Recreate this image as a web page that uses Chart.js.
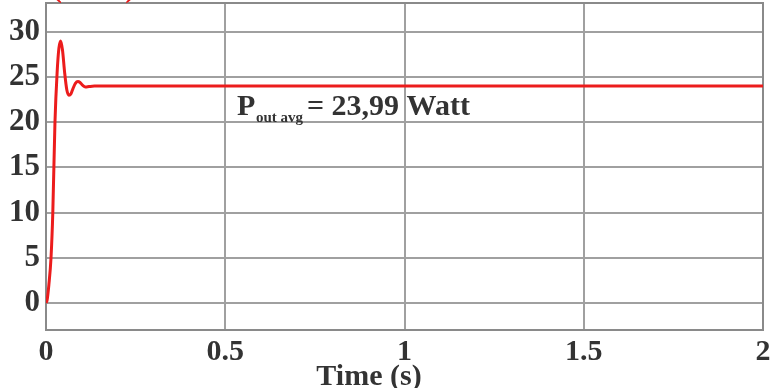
<!DOCTYPE html>
<html>
<head>
<meta charset="utf-8">
<script src="https://cdn.jsdelivr.net/npm/chart.js@4"></script>
<style>
  html, body { margin: 0; padding: 0; background: #fff; }
  #wrap { width: 772px; height: 388px; }
</style>
</head>
<body>
<div id="wrap"><canvas id="myChart" width="772" height="388"></canvas></div>
<script>
// Zeitachse (s) und Ausgangsleistung (W)
const timeS = [0, 0.003, 0.008, 0.014, 0.019, 0.025, 0.031, 0.036, 0.041, 0.046, 0.052, 0.058, 0.064, 0.069, 0.075, 0.082, 0.089, 0.095, 0.102, 0.110, 0.120, 0.135, 0.16, 0.5, 1, 1.5, 2];
const powerW = [0, 0.3, 2, 5, 10, 20, 25.5, 28.2, 29.0, 28.0, 25.5, 23.6, 23.0, 23.1, 23.7, 24.3, 24.5, 24.4, 24.1, 23.9, 23.95, 24, 24, 24, 24, 24, 24];

const xTicks = [0, 0.5, 1, 1.5, 2];
const yTicks = [0, 5, 10, 15, 20, 25, 30];

const points = timeS.map((t, i) => ({ x: t, y: powerW[i] }));

const textColor = '#333333';
const serif = '"Liberation Serif", "DejaVu Serif", serif';

// Rahmen, Beschriftung und Achsentitel
const extras = {
    id: 'extras',
    beforeDatasetsDraw(chart) {
        const { ctx, chartArea: a } = chart;
        ctx.save();
        ctx.strokeStyle = '#8a8a8a';
        ctx.lineWidth = 2;
        ctx.strokeRect(a.left, a.top, a.right - a.left, a.bottom - a.top);
        ctx.restore();
    },
    afterDraw(chart) {
        const { ctx } = chart;
        ctx.save();
        ctx.fillStyle = textColor;
        ctx.textBaseline = 'alphabetic';
        ctx.textAlign = 'left';
        // P_out avg = 23,99 Watt
        ctx.font = 'bold 30px ' + serif;
        ctx.fillText('P', 237, 115);
        ctx.font = 'bold 15px ' + serif;
        ctx.fillText('out avg', 256, 122);
        ctx.font = 'bold 30px ' + serif;
        ctx.fillText('= 23,99 Watt', 307, 115);
        // Achsentitel
        ctx.textAlign = 'center';
        ctx.fillText('Time (s)', 369, 385);
        // abgeschnittene rote Beschriftung oben
        ctx.fillStyle = '#e81818';
        ctx.textAlign = 'left';
        ctx.font = 'bold 30px ' + serif;
        ctx.fillText('(Watt)', 52, -3);
        ctx.restore();
    }
};

new Chart(document.getElementById('myChart'), {
    type: 'line',
    data: {
        datasets: [{
            data: points,
            borderColor: '#ec1c1c',
            borderWidth: 3,
            pointRadius: 0,
            fill: false,
            cubicInterpolationMode: 'monotone'
        }]
    },
    options: {
        responsive: false,
        animation: false,
        layout: { padding: { top: 3, right: 9, left: 0, bottom: 0 } },
        plugins: { legend: { display: false }, tooltip: { enabled: false } },
        scales: {
            x: {
                type: 'linear',
                min: 0,
                max: 2,
                afterBuildTicks: s => { s.ticks = xTicks.map(v => ({ value: v })); },
                afterFit: s => { s.height = 58; s.paddingLeft = 0; s.paddingRight = 0; },
                grid: { color: '#a0a0a0', lineWidth: 2, drawTicks: false },
                border: { display: false },
                ticks: {
                    color: textColor,
                    padding: 4,
                    maxRotation: 0,
                    callback: v => String(v),
                    font: { family: serif, size: 30, weight: 'bold' }
                }
            },
            y: {
                min: -3,
                max: 33.2,
                afterBuildTicks: s => { s.ticks = yTicks.map(v => ({ value: v })); },
                afterFit: s => { s.width = 46; s.paddingTop = 0; s.paddingBottom = 0; },
                grid: { color: '#a0a0a0', lineWidth: 2, drawTicks: false },
                border: { display: false },
                ticks: {
                    color: textColor,
                    padding: 6,
                    callback: v => String(v),
                    font: { family: serif, size: 31, weight: 'bold' }
                }
            }
        }
    },
    plugins: [extras]
});
</script>
</body>
</html>
